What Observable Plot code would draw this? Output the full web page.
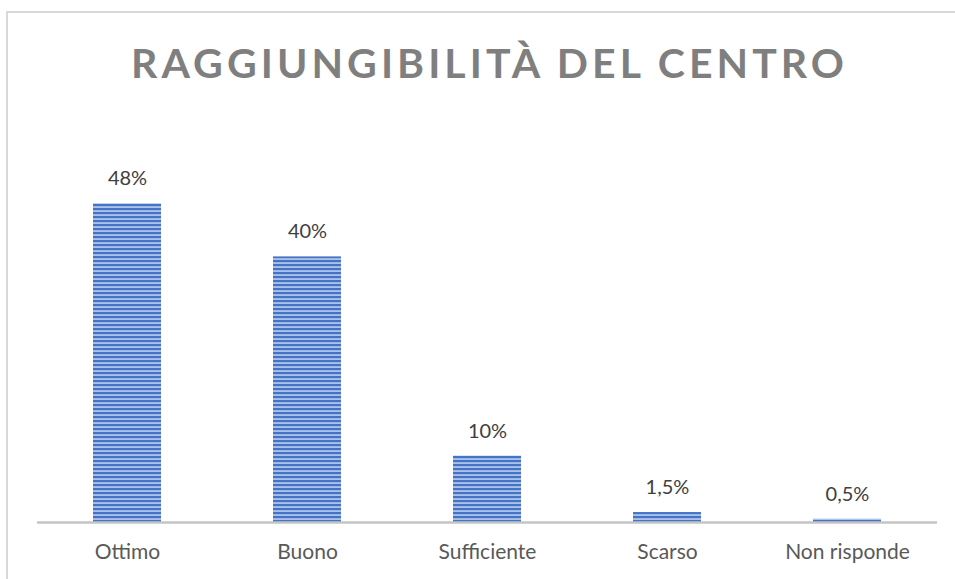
<!DOCTYPE html>
<html>
<head>
<meta charset="utf-8">
<script src="https://cdn.jsdelivr.net/npm/d3@7"></script>
<script src="https://cdn.jsdelivr.net/npm/@observablehq/plot@0.6"></script>
<style>
  html, body { margin: 0; padding: 0; background: #fff; }
  #wrap { position: relative; width: 955px; height: 579px; overflow: hidden; }
  #border { position: absolute; left: 6px; top: 11px; width: 1000px; height: 700px;
            border-left: 2px solid #d9d9d9; border-top: 2px solid #d9d9d9; }
  #chart { position: absolute; left: 0; top: 0; }
</style>
</head>
<body>
<div id="wrap"><div id="border"></div><div id="chart"></div></div>
<script>
const title = "RAGGIUNGIBILITÀ DEL CENTRO";
const categories = ["Ottimo", "Buono", "Sufficiente", "Scarso", "Non risponde"];
const values = [48, 40, 10, 1.5, 0.5];
const valueLabels = ["48%", "40%", "10%", "1,5%", "0,5%"];

const data = categories.map((c, i) => ({category: c, value: values[i], label: valueLabels[i]}));

const chart = Plot.plot({
  width: 955,
  height: 579,
  marginTop: 190,
  marginBottom: 57,
  marginLeft: 37,
  marginRight: 18,
  style: {fontFamily: "Lato, 'Open Sans', sans-serif", background: "transparent"},
  x: {domain: categories, paddingInner: 0.622, paddingOuter: 0.311, label: null},
  y: {domain: [0, 50], axis: null},
  marks: [
    Plot.barY(data, {x: "category", y: "value", fill: "url(#stripes)"}),
    Plot.ruleY([0], {stroke: "#c4c4c4", strokeWidth: 2.5}),
    Plot.text(data, {x: "category", y: "value", text: "label", dy: -25,
      fill: "#404040", fontSize: 20}),
    Plot.axisX({tickSize: 0, tickPadding: 22, fontSize: 21, color: "#595959", label: null}),
    Plot.text([title], {frameAnchor: "top", dy: -142, fontSize: 41, fontWeight: 700,
      fill: "#7f7f7f"})
  ]
});

const svg = d3.select(chart);
const defs = svg.insert("defs", ":first-child");
const pat = defs.append("pattern")
  .attr("id", "stripes")
  .attr("patternUnits", "userSpaceOnUse")
  .attr("width", 8).attr("height", 4);
pat.append("rect").attr("width", 8).attr("height", 4).attr("fill", "#4573c6");
pat.append("rect").attr("y", 2.3).attr("width", 8).attr("height", 1.5).attr("fill", "#c3d4f2");

// stretch title letter-spacing to match reference width
svg.selectAll("text").filter(function() { return this.textContent === title; })
  .attr("textLength", 713).attr("lengthAdjust", "spacing");

document.getElementById("chart").appendChild(chart);
</script>
</body>
</html>
